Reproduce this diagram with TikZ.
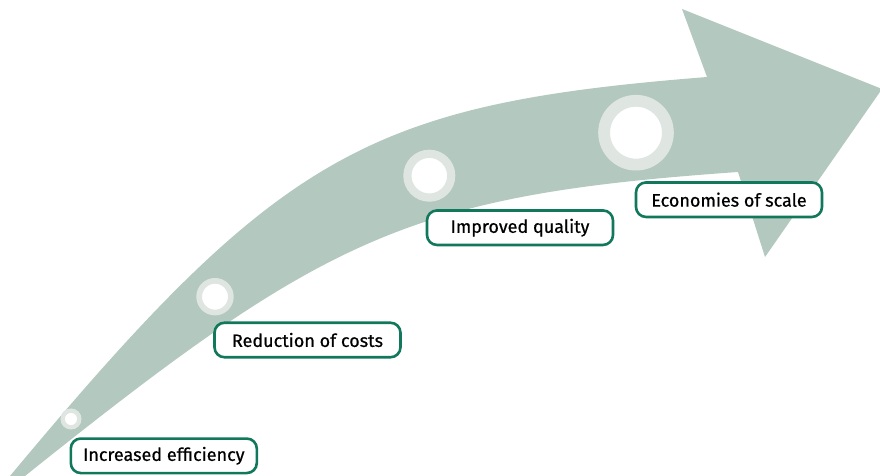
\documentclass[tikz,border=0pt]{standalone}
\usepackage{fontspec}
\setmainfont{Fira Sans}
\newfontfamily\labfont{Fira Sans}[FakeBold=0.6]
\definecolor{bandc}{HTML}{B3C8BE}
\definecolor{ringc}{HTML}{DFE6E2}
\definecolor{boxc}{HTML}{12785C}
\begin{document}
\begin{tikzpicture}[x=1pt,y=-1pt,
  dot/.style={circle,fill=white,draw=ringc,inner sep=0pt},
  lab/.style={draw=boxc,line width=2.6pt,rounded corners=10pt,fill=white,
    minimum width=186pt,minimum height=34.5pt,inner sep=0pt,
    font=\labfont\fontsize{18}{21}\selectfont,text=black}]
\useasboundingbox (0,0) rectangle (880,476);
\fill[bandc] (10,476) .. controls (280,152) and (367,104) .. (707,77)
  -- (682,9) -- (882,89) -- (765,257) -- (738,172)
  .. controls (408,195.1) and (325,236) .. (25,476)
  -- cycle;
\node[dot,line width=4.3pt,minimum size=16.7pt] (c1) at (71,419) {};
\node[dot,line width=5.7pt,minimum size=31.7pt] (c2) at (215,296.7) {};
\node[dot,line width=8.2pt,minimum size=43.8pt] (c3) at (429.3,175.7) {};
\node[dot,line width=11.8pt,minimum size=63.8pt] (c4) at (636,132.7) {};
\node[lab] (l1) at (163.8,455.8) {Increased efficiency};
\node[lab] (l2) at (307.5,340) {Reduction of costs};
\node[lab] (l3) at (520,227.7) {Improved quality};
\node[lab] (l4) at (729,199.7) {Economies of scale};
\end{tikzpicture}
\end{document}
